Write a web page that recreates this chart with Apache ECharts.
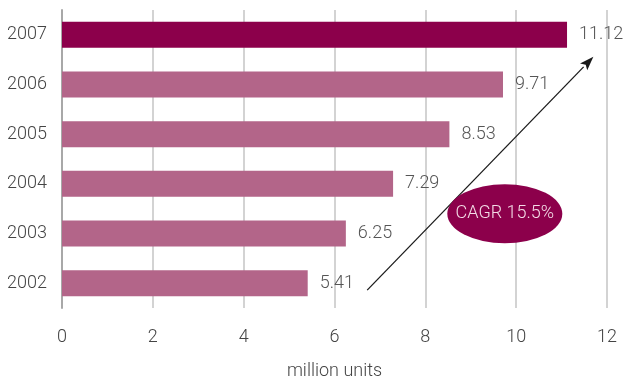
<!DOCTYPE html>
<html>
<head>
<meta charset="utf-8">
<script src="https://cdn.jsdelivr.net/npm/echarts@6/dist/echarts.min.js"></script>
<style>
  html, body { margin: 0; padding: 0; background: #fff; }
  #chart { width: 630px; height: 378px; }
</style>
</head>
<body>
<div id="chart"></div>
<script>
// Annual unit volumes, listed bottom to top
const years = ['2002', '2003', '2004', '2005', '2006', '2007'];
const units = [5.41, 6.25, 7.29, 8.53, 9.71, 11.12];
const xTicks = [0, 2, 4, 6, 8, 10, 12];
const cagrText = 'CAGR 15.5%';

const FONT = 'Roboto, "Open Sans", sans-serif';
const WEIGHT = 300;
const DARK = '#8c004b';
const LIGHT = '#b36589';

const chart = echarts.init(document.getElementById('chart'));

chart.setOption({
  animation: false,
  grid: { left: 62, right: 23, top: 10, bottom: 70, outerBoundsMode: 'none', containLabel: false },
  xAxis: {
    type: 'value',
    min: xTicks[0],
    max: xTicks[xTicks.length - 1],
    interval: 2,
    name: 'million units',
    nameLocation: 'middle',
    nameGap: 54,
    nameTextStyle: { fontFamily: FONT, fontWeight: WEIGHT, fontSize: 18, color: '#444' },
    axisLine: { show: false },
    axisTick: { show: false },
    axisLabel: { fontFamily: FONT, fontWeight: WEIGHT, fontSize: 18, color: '#444', margin: 20 },
    splitLine: { show: true, lineStyle: { color: '#c4c4c4', width: 1.5 } }
  },
  yAxis: {
    type: 'category',
    data: years,
    axisLine: { show: true, lineStyle: { color: '#a8a8a8', width: 2 } },
    axisTick: { show: false },
    axisLabel: { fontFamily: FONT, fontWeight: WEIGHT, fontSize: 18, color: '#444', margin: 15 }
  },
  series: [{
    type: 'bar',
    data: units.map((v, i) => ({
      value: v,
      itemStyle: { color: i === units.length - 1 ? DARK : LIGHT }
    })),
    barWidth: 26,
    label: {
      show: true,
      position: 'right',
      distance: 12,
      fontFamily: FONT,
      fontWeight: WEIGHT,
      fontSize: 18,
      color: '#555'
    }
  }]
});

// Growth arrow and CAGR badge, placed in data space
function drawAnnotations() {
  const px = v => chart.convertToPixel({ xAxisIndex: 0 }, v);
  const py = c => chart.convertToPixel({ yAxisIndex: 0 }, c);

  const x0 = px(6.72), y0 = py('2002') + 7;
  const x1 = px(11.7), y1 = py('2007') + 22;
  const ang = Math.atan2(y1 - y0, x1 - x0);
  const head = 14, half = 5;
  const bx = x1 - head * Math.cos(ang), by = y1 - head * Math.sin(ang);
  const nx = -Math.sin(ang) * half, ny = Math.cos(ang) * half;

  const ex = px(9.75), ey = (py('2004') + py('2003')) / 2 + 5;
  const rx = 57.5, ry = 29.5;

  chart.setOption({
    graphic: [
      {
        type: 'line',
        shape: { x1: x0, y1: y0, x2: bx, y2: by },
        style: { stroke: '#1a1a1a', lineWidth: 1.3 },
        z: 10
      },
      {
        type: 'polygon',
        shape: { points: [[x1, y1], [bx + nx, by + ny], [bx + 3 * Math.cos(ang), by + 3 * Math.sin(ang)], [bx - nx, by - ny]] },
        style: { fill: '#1a1a1a' },
        z: 10
      },
      {
        type: 'circle',
        x: ex, y: ey,
        scaleY: ry / rx,
        shape: { cx: 0, cy: 0, r: rx },
        style: { fill: DARK },
        z: 11
      },
      {
        type: 'text',
        x: ex, y: ey,
        style: {
          text: cagrText,
          fontFamily: FONT,
          fontWeight: WEIGHT,
          fontSize: 18,
          fill: '#f3dbe6',
          align: 'center',
          verticalAlign: 'middle'
        },
        z: 12
      }
    ]
  });
}
drawAnnotations();
</script>
</body>
</html>
